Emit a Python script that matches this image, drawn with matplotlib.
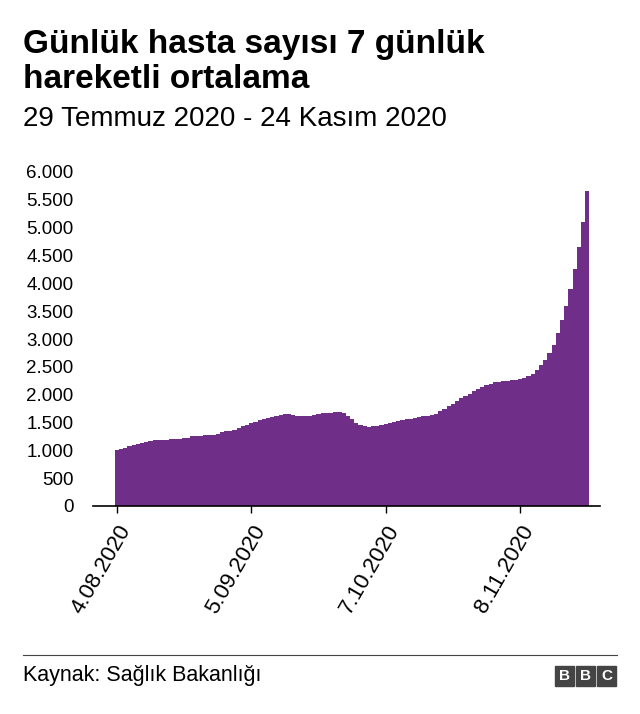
import matplotlib
matplotlib.use("Agg")
import matplotlib.pyplot as plt
import matplotlib.patches as mpatches
import datetime as dt

plt.rcParams['font.family'] = ['Liberation Sans', 'DejaVu Sans']

start = dt.date(2020, 8, 4)
values = [1000,1020,1050,1070,1090,1110,1130,1150,1170,1180,
          1180,1190,1190,1200,1210,1210,1220,1230,1250,1260,
          1260,1270,1270,1280,1300,1330,1340,1350,1370,1400,
          1430,1460,1490,1510,1540,1560,1580,1600,1620,1640,
          1650,1650,1640,1620,1610,1610,1620,1640,1660,1670,
          1670,1670,1680,1680,1670,1620,1560,1500,1450,1430,
          1420,1430,1440,1450,1470,1490,1510,1530,1550,1560,
          1570,1580,1600,1610,1620,1640,1660,1700,1740,1790,
          1840,1890,1940,1980,2020,2060,2100,2140,2170,2200,
          2220,2230,2240,2250,2260,2270,2280,2300,2330,2370,
          2450,2530,2620,2740,2900,3100,3350,3600,3900,4250,
          4650,5100,5650]
tick_labels = ["4.08.2020", "5.09.2020", "7.10.2020", "8.11.2020"]
y_ticks = [0, 500, 1000, 1500, 2000, 2500, 3000, 3500, 4000, 4500, 5000, 5500, 6000]
y_labels = ["0", "500", "1.000", "1.500", "2.000", "2.500", "3.000", "3.500",
            "4.000", "4.500", "5.000", "5.500", "6.000"]

tick_days = [(dt.date(int(s.split('.')[2]), int(s.split('.')[1]), int(s.split('.')[0])) - start).days
             for s in tick_labels]

fig = plt.figure(figsize=(6.4, 7.14), dpi=100)
ax = fig.add_axes([93/640, 1-506/714, (600-93)/640, (506-172)/714])
ax.bar(range(len(values)), values, width=1.0, color='#6f2e87', linewidth=0)
ax.set_xlim(-5.7, 115)
ax.set_ylim(0, 6000)
ax.set_yticks(y_ticks)
ax.set_yticklabels(y_labels, fontsize=13.5)
ax.set_xticks(tick_days)
ax.set_xticklabels(tick_labels, rotation=60, ha='right', rotation_mode='anchor', fontsize=16)
for s in ['top', 'right', 'left']:
    ax.spines[s].set_visible(False)
ax.spines['bottom'].set_linewidth(1.2)
ax.tick_params(axis='y', length=0, pad=14)
ax.tick_params(axis='x', length=5, width=1, pad=6)

fig.text(23/640, 1-45/714, "Günlük hasta sayısı 7 günlük", fontsize=24, fontweight='bold', va='center')
fig.text(23/640, 1-80/714, "hareketli ortalama", fontsize=24, fontweight='bold', va='center')
fig.text(23/640, 1-119/714, "29 Temmuz 2020 - 24 Kasım 2020", fontsize=20, va='center')

fig.add_artist(plt.Line2D([23/640, 617/640], [1-655/714, 1-655/714], color='#444444', lw=0.8))
fig.text(23/640, 1-676/714, "Kaynak: Sağlık Bakanlığı", fontsize=15.5, va='center')
for i, ch in enumerate("BBC"):
    x0 = (555 + i*21)/640
    fig.add_artist(mpatches.Rectangle((x0, 1-686/714), 19/640, 20/714, color='#444444', transform=fig.transFigure))
    fig.text(x0 + 9.5/640, 1-676/714, ch, color='white', fontsize=11, fontweight='bold', ha='center', va='center')

fig.savefig("out.png", dpi=100)
